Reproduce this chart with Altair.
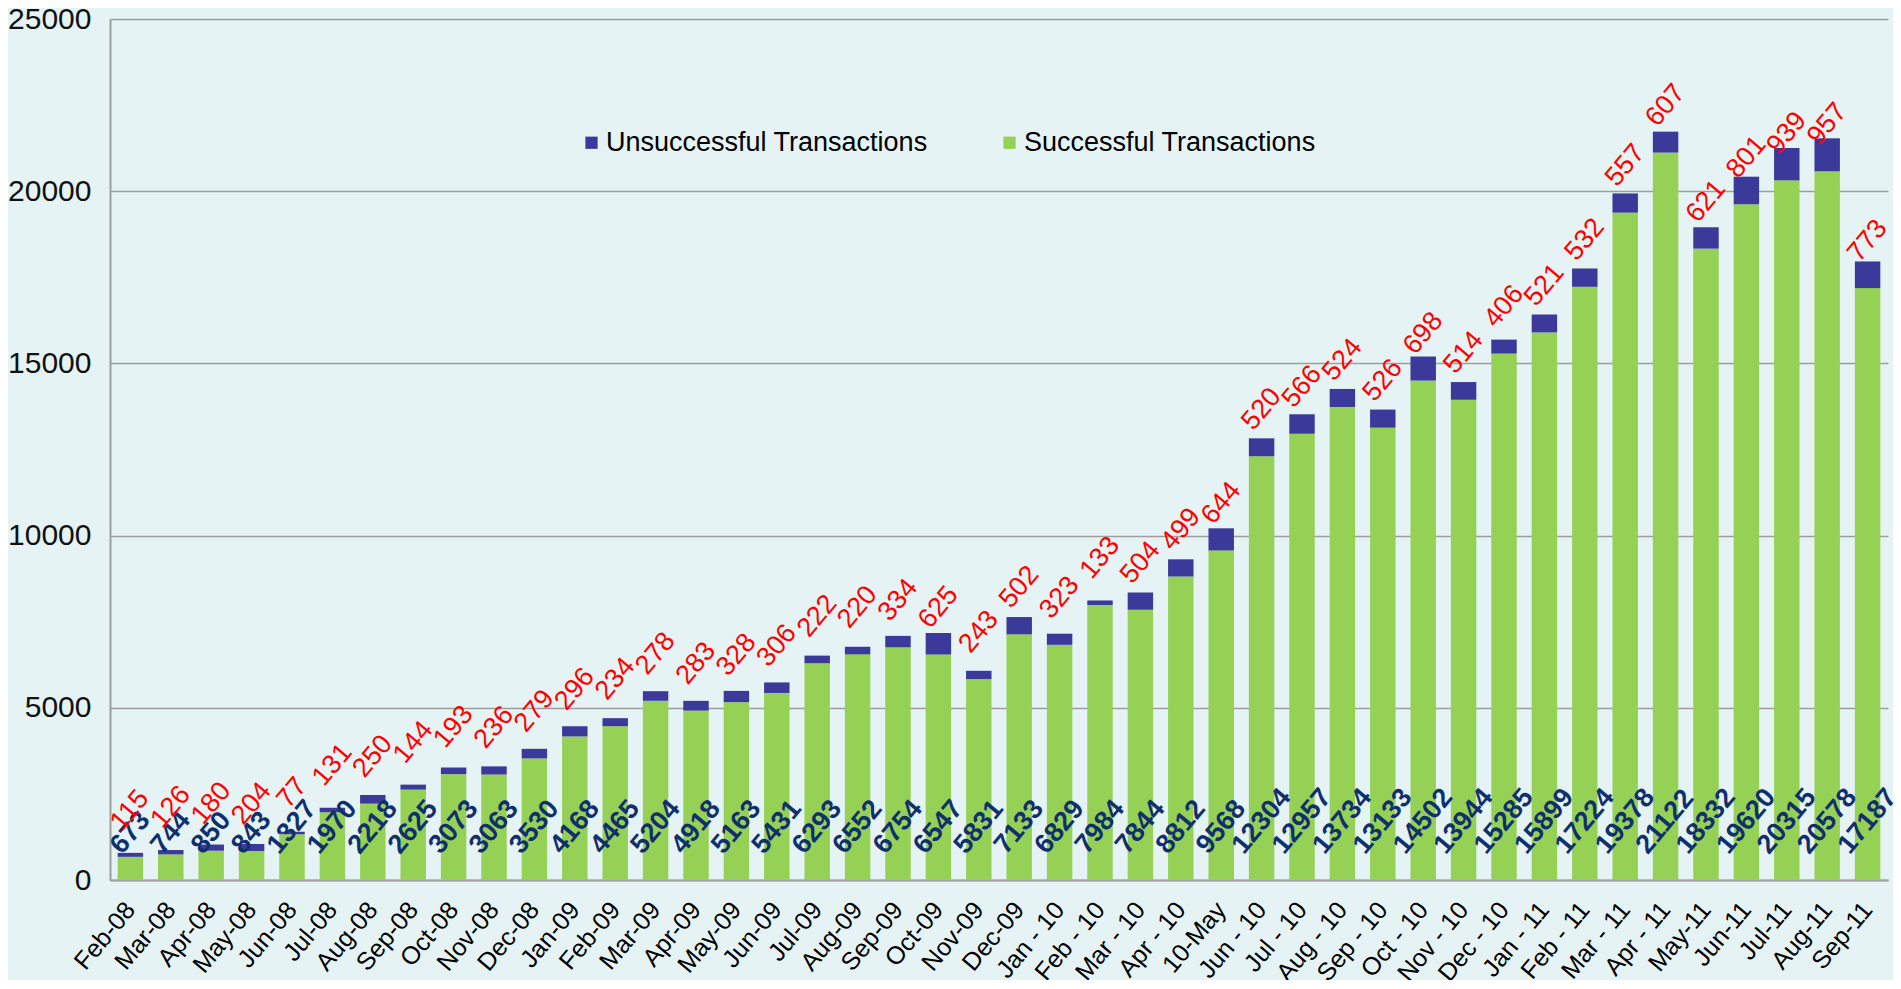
import altair as alt
import pandas as pd

months = ["Feb-08", "Mar-08", "Apr-08", "May-08", "Jun-08", "Jul-08", "Aug-08", "Sep-08",
          "Oct-08", "Nov-08", "Dec-08", "Jan-09", "Feb-09", "Mar-09", "Apr-09", "May-09",
          "Jun-09", "Jul-09", "Aug-09", "Sep-09", "Oct-09", "Nov-09", "Dec-09", "Jan - 10",
          "Feb - 10", "Mar - 10", "Apr - 10", "10-May", "Jun - 10", "Jul - 10", "Aug - 10",
          "Sep - 10", "Oct - 10", "Nov - 10", "Dec - 10", "Jan - 11", "Feb - 11", "Mar - 11",
          "Apr - 11", "May-11", "Jun-11", "Jul-11", "Aug-11", "Sep-11"]
successful = [673, 744, 850, 843, 1327, 1970, 2218, 2625, 3073, 3063, 3530, 4168, 4465, 5204,
              4918, 5163, 5431, 6293, 6552, 6754, 6547, 5831, 7133, 6829, 7984, 7844, 8812, 9568,
              12304, 12957, 13734, 13133, 14502, 13944, 15285, 15899, 17224, 19378, 21122, 18332,
              19620, 20315, 20578, 17187]
unsuccessful = [115, 126, 180, 204, 77, 131, 250, 144, 193, 236, 279, 296, 234, 278, 283, 328,
                306, 222, 220, 334, 625, 243, 502, 323, 133, 504, 499, 644, 520, 566, 524, 526,
                698, 514, 406, 521, 532, 557, 607, 621, 801, 939, 957, 773]
series = ["Unsuccessful Transactions", "Successful Transactions"]
y_ticks = [0, 5000, 10000, 15000, 20000, 25000]

GREEN = "#95D155"
BLUE = "#3B3A9B"
NAVY = "#102F6E"
RED = "#FF0000"
BG = "#E5F3F4"
GRID = "#9E9E9E"
FONT = "Liberation Sans"
LABEL_ANGLE = 310  # i.e. -50 degrees
LABEL_SIZE = 27

wide = pd.DataFrame({"month": months, "succ": successful, "uns": unsuccessful})
rows = []
for m, s, u in zip(months, successful, unsuccessful):
    rows.append({"month": m, "series": series[1], "start": 0, "end": s})
    rows.append({"month": m, "series": series[0], "start": s, "end": s + u})
long = pd.DataFrame(rows)

xenc = alt.X("month:N", sort=months,
             scale=alt.Scale(paddingInner=0.37, paddingOuter=0.19),
             axis=alt.Axis(title=None, labelAngle=310, labelAlign="right", labelBaseline="middle",
                           labelFontSize=25, labelFont=FONT, labelColor="black", labelPadding=25,
                           ticks=False, domainColor=GRID, domainWidth=2, grid=False,
                           labelOverlap=False))
yaxis = alt.Axis(title=None, values=y_ticks, format="d", labelFontSize=30, labelFont=FONT,
                 labelColor="#111111", labelPadding=19, ticks=False, grid=True,
                 gridColor=GRID, gridWidth=1.5, domainColor=GRID, domainWidth=2)
yscale = alt.Scale(domain=[0, 25000], nice=False)

bars = alt.Chart(long).mark_bar().encode(
    x=xenc,
    y=alt.Y("start:Q", scale=yscale, axis=yaxis),
    y2="end:Q",
    color=alt.Color("series:N",
                    scale=alt.Scale(domain=series, range=[BLUE, GREEN]),
                    legend=alt.Legend(title=None, orient="none", legendX=468, legendY=110,
                                      direction="horizontal", symbolType="square",
                                      symbolSize=150, symbolStrokeWidth=0, labelFontSize=27,
                                      labelFont=FONT, labelColor="black", columnPadding=68,
                                      labelOffset=1, padding=0, labelLimit=0)),
)

base = alt.Chart(wide).transform_calculate(
    zero="0",
    ns="length(toString(datum.succ))",
    nu="length(toString(datum.uns))",
)


def label_layer(text_field, y_field, count_field, n, color, weight):
    return base.transform_filter(f"datum.{count_field} == {n}").mark_text(
        angle=LABEL_ANGLE, align="left", baseline="middle", fontSize=LABEL_SIZE, font=FONT,
        fontWeight=weight, color=color,
        xOffset=-0.32 * n * 0.556 * LABEL_SIZE, yOffset=-30,
    ).encode(
        x=xenc,
        y=alt.Y(f"{y_field}:Q", scale=yscale, axis=yaxis),
        text=alt.Text(f"{text_field}:Q", format="d"),
    )


layers = [bars]
for n in (3, 4, 5):
    layers.append(label_layer("succ", "zero", "ns", n, NAVY, "bold"))
for n in (2, 3):
    layers.append(label_layer("uns", "succ", "nu", n, RED, "normal"))

chart = alt.layer(*layers).properties(
    width=1778, height=861,
    autosize=alt.AutoSizeParams(type="none"),
    padding={"left": 102, "top": 11, "right": 5, "bottom": 100},
    background=BG,
).configure_view(stroke=None)

chart.save("out.html", embed_options={"renderer": "svg", "actions": False})
